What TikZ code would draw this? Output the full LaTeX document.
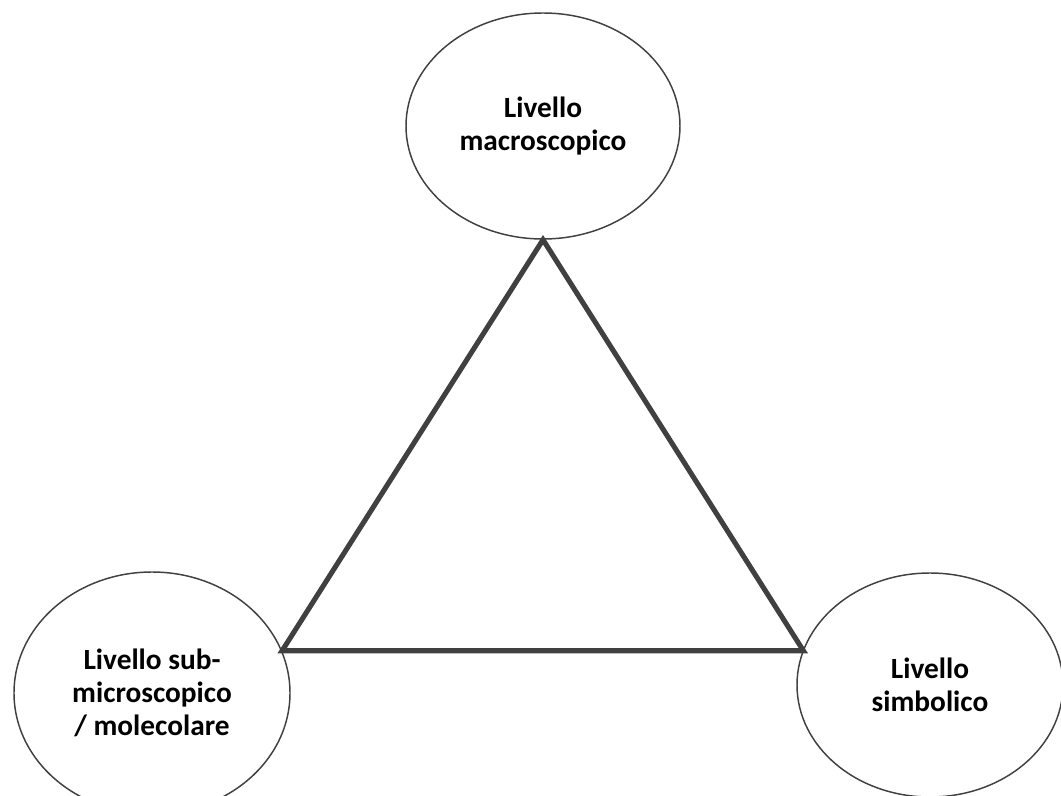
\documentclass[tikz,border=0pt]{standalone}
\usepackage{fontspec}
\setmainfont{Carlito}
\usetikzlibrary{shapes.geometric}
\definecolor{linegray}{HTML}{404040}
\begin{document}
\begin{tikzpicture}[x=0.75pt,y=-0.75pt,
	level/.style={draw=linegray,line width=1.1pt,ellipse,inner sep=0pt,align=center,
		font=\fontsize{22}{24.5}\selectfont\bfseries},
	tri/.style={draw=linegray,line width=3.8pt,line join=miter}]
	\useasboundingbox (0,0) rectangle (1061,796);
	\begin{scope}
	\clip (0,0) rectangle (1061,796);
	
	\node[level,minimum width=205.5pt,minimum height=169.5pt] (macro) at (543,126) {Livello\\macroscopico};
	\node[level,minimum width=207pt,minimum height=181.5pt] (sub) at (152,693) {Livello sub-\\microscopico\\/ molecolare};
	\node[level,minimum width=199.5pt,minimum height=168pt] (simb) at (930,685) {Livello\\simbolico};
	
	\coordinate (A) at (macro.south);
	\coordinate (B) at (sub.18);
	\coordinate (C) at (B -| simb.164);
	\draw[tri] (A) -- (B) -- (C) -- cycle;
	
	\end{scope}
\end{tikzpicture}
\end{document}
